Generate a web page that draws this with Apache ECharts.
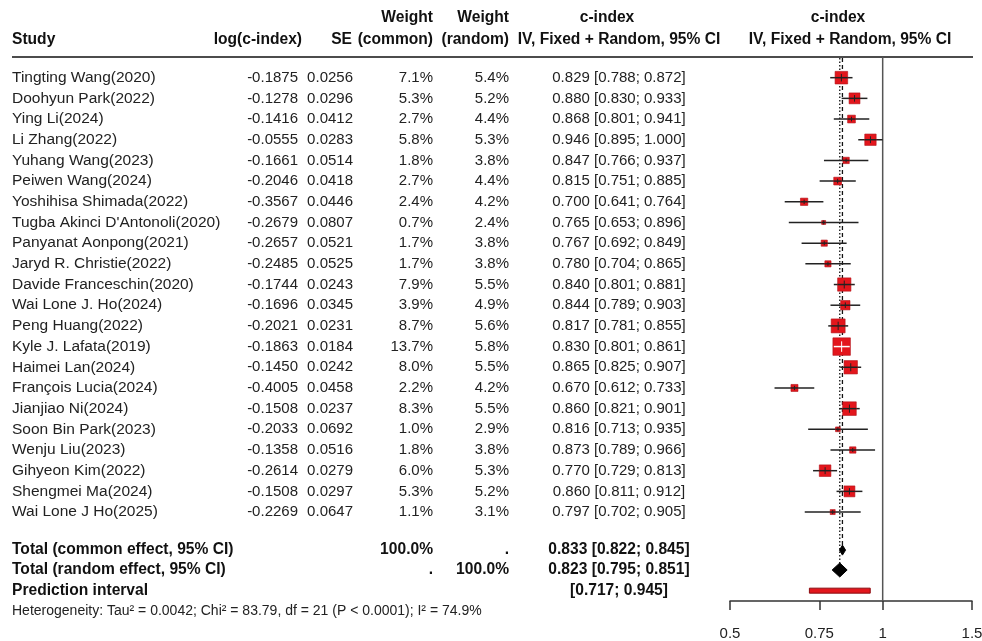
<!DOCTYPE html>
<html>
<head>
<meta charset="utf-8">
<script src="https://cdn.jsdelivr.net/npm/echarts@6/dist/echarts.min.js"></script>
<style>
html, body { margin: 0; padding: 0; background: #fff; }
#chart { width: 982px; height: 641px; }
</style>
</head>
<body>
<div id="chart"></div>
<script>
// study level data
var studies = ['Tingting Wang(2020)', 'Doohyun Park(2022)', 'Ying Li(2024)', 'Li Zhang(2022)', 'Yuhang Wang(2023)',
    'Peiwen Wang(2024)', 'Yoshihisa Shimada(2022)', "Tugba Akinci D'Antonoli(2020)", 'Panyanat Aonpong(2021)',
    'Jaryd R. Christie(2022)', 'Davide Franceschin(2020)', 'Wai Lone J. Ho(2024)', 'Peng Huang(2022)',
    'Kyle J. Lafata(2019)', 'Haimei Lan(2024)', 'François Lucia(2024)', 'Jianjiao Ni(2024)', 'Soon Bin Park(2023)',
    'Wenju Liu(2023)', 'Gihyeon Kim(2022)', 'Shengmei Ma(2024)', 'Wai Lone J Ho(2025)'];
var logC = [-0.1875, -0.1278, -0.1416, -0.0555, -0.1661, -0.2046, -0.3567, -0.2679, -0.2657, -0.2485, -0.1744,
    -0.1696, -0.2021, -0.1863, -0.1450, -0.4005, -0.1508, -0.2033, -0.1358, -0.2614, -0.1508, -0.2269];
var se = [0.0256, 0.0296, 0.0412, 0.0283, 0.0514, 0.0418, 0.0446, 0.0807, 0.0521, 0.0525, 0.0243,
    0.0345, 0.0231, 0.0184, 0.0242, 0.0458, 0.0237, 0.0692, 0.0516, 0.0279, 0.0297, 0.0647];
var wCommon = [7.1, 5.3, 2.7, 5.8, 1.8, 2.7, 2.4, 0.7, 1.7, 1.7, 7.9, 3.9, 8.7, 13.7, 8.0, 2.2, 8.3, 1.0, 1.8, 6.0, 5.3, 1.1];
var wRandom = [5.4, 5.2, 4.4, 5.3, 3.8, 4.4, 4.2, 2.4, 3.8, 3.8, 5.5, 4.9, 5.6, 5.8, 5.5, 4.2, 5.5, 2.9, 3.8, 5.3, 5.2, 3.1];
var cIndex = [0.829, 0.880, 0.868, 0.946, 0.847, 0.815, 0.700, 0.765, 0.767, 0.780, 0.840,
    0.844, 0.817, 0.830, 0.865, 0.670, 0.860, 0.816, 0.873, 0.770, 0.860, 0.797];
var ciLower = [0.788, 0.830, 0.801, 0.895, 0.766, 0.751, 0.641, 0.653, 0.692, 0.704, 0.801,
    0.789, 0.781, 0.801, 0.825, 0.612, 0.821, 0.713, 0.789, 0.729, 0.811, 0.702];
var ciUpper = [0.872, 0.933, 0.941, 1.000, 0.937, 0.885, 0.764, 0.896, 0.849, 0.865, 0.881,
    0.903, 0.855, 0.861, 0.907, 0.733, 0.901, 0.935, 0.966, 0.813, 0.912, 0.905];

// pooled results
var commonEffect = [0.833, 0.822, 0.845];
var randomEffect = [0.823, 0.795, 0.851];
var predInterval = [0.717, 0.945];
var tau2 = '0.0042', chi2 = '83.79', df = 21, pText = 'P < 0.0001', i2 = '74.9%';

var xTicks = [0.5, 0.75, 1, 1.5];

var FONT = '"Liberation Sans", Arial, Helvetica, sans-serif';
// row positions (in row units) for the summary block
var ROW_COMMON = 22.84, ROW_RANDOM = 23.8, ROW_PRED = 24.8, ROW_HET = 25.77;

function fmtCI(e, l, u) {
    return e.toFixed(3) + ' [' + l.toFixed(3) + '; ' + u.toFixed(3) + ']';
}
function txt(x, y, s, align, bold, size) {
    return {
        type: 'text', x: x, y: y, silent: true,
        style: {
            text: s, fill: bold ? '#111' : '#222',
            font: (bold ? 'bold ' : '') + (size || (bold ? 15.6 : 15)) + 'px ' + FONT,
            align: align, verticalAlign: 'middle'
        }
    };
}

var chart = echarts.init(document.getElementById('chart'));

var studyRows = studies.map(function (s, i) {
    return [0, i];
});
var forestData = studies.map(function (s, i) {
    return [Math.log(cIndex[i]), Math.log(ciLower[i]), Math.log(ciUpper[i]), i, wCommon[i]];
});
var maxW = Math.max.apply(null, wCommon);

var option = {
    animation: false,
    backgroundColor: '#fff',
    grid: { left: 730, top: 57, width: 242, height: 544, outerBoundsMode: 'none', containLabel: false },
    xAxis: {
        type: 'value',
        min: Math.log(0.5),
        max: Math.log(1.5),
        axisLine: { show: true, onZero: false, lineStyle: { color: '#333', width: 1.5 } },
        axisTick: {
            show: true, inside: false, length: 9,
            customValues: xTicks.map(Math.log),
            lineStyle: { color: '#333', width: 1.5 }
        },
        axisLabel: {
            customValues: xTicks.map(Math.log),
            margin: 25,
            fontSize: 15,
            fontFamily: FONT,
            color: '#222',
            formatter: function (v) {
                var best = xTicks[0];
                xTicks.forEach(function (t) {
                    if (Math.abs(Math.log(t) - v) < Math.abs(Math.log(best) - v)) best = t;
                });
                return String(best);
            }
        },
        splitLine: { show: false }
    },
    yAxis: { type: 'value', inverse: true, min: -1, max: 25.3, show: false },
    graphic: [
        // header
        txt(433, 18, 'Weight', 'right', true),
        txt(509, 18, 'Weight', 'right', true),
        txt(607, 18, 'c-index', 'center', true),
        txt(838, 18, 'c-index', 'center', true),
        txt(12, 40, 'Study', 'left', true),
        txt(302, 40, 'log(c-index)', 'right', true),
        txt(352, 40, 'SE', 'right', true),
        txt(433, 40, '(common)', 'right', true),
        txt(509, 40, '(random)', 'right', true),
        txt(619, 40, 'IV, Fixed + Random, 95% CI', 'center', true),
        txt(850, 40, 'IV, Fixed + Random, 95% CI', 'center', true),
        {
            type: 'line', silent: true,
            shape: { x1: 12, y1: 57, x2: 973, y2: 57 },
            style: { stroke: '#111', lineWidth: 1.5 }
        }
    ],
    series: [
        {
            // study table text
            type: 'custom',
            silent: true,
            data: studyRows,
            renderItem: function (params, api) {
                var i = api.value(1);
                var y = api.coord([0, i])[1];
                return {
                    type: 'group',
                    children: [
                        txt(12, y, studies[i], 'left', false, 15.5),
                        txt(298, y, logC[i].toFixed(4), 'right'),
                        txt(353, y, se[i].toFixed(4), 'right'),
                        txt(433, y, wCommon[i].toFixed(1) + '%', 'right'),
                        txt(509, y, wRandom[i].toFixed(1) + '%', 'right'),
                        txt(619, y, fmtCI(cIndex[i], ciLower[i], ciUpper[i]), 'center')
                    ]
                };
            }
        },
        {
            // summary text
            type: 'custom',
            silent: true,
            data: [[0, ROW_COMMON], [0, ROW_RANDOM], [0, ROW_PRED], [0, ROW_HET]],
            renderItem: function (params, api) {
                var y = api.coord([0, api.value(1)])[1];
                var k = params.dataIndex;
                if (k === 0) {
                    return { type: 'group', children: [
                        txt(12, y, 'Total (common effect, 95% CI)', 'left', true),
                        txt(433, y, '100.0%', 'right', true),
                        txt(509, y, '.', 'right', true),
                        txt(619, y, fmtCI(commonEffect[0], commonEffect[1], commonEffect[2]), 'center', true)
                    ] };
                }
                if (k === 1) {
                    return { type: 'group', children: [
                        txt(12, y, 'Total (random effect, 95% CI)', 'left', true),
                        txt(433, y, '.', 'right', true),
                        txt(509, y, '100.0%', 'right', true),
                        txt(619, y, fmtCI(randomEffect[0], randomEffect[1], randomEffect[2]), 'center', true)
                    ] };
                }
                if (k === 2) {
                    return { type: 'group', children: [
                        txt(12, y, 'Prediction interval', 'left', true),
                        txt(619, y, '[' + predInterval[0].toFixed(3) + '; ' + predInterval[1].toFixed(3) + ']', 'center', true)
                    ] };
                }
                return txt(12, y, 'Heterogeneity: Tau² = ' + tau2 + '; Chi² = ' + chi2 + ', df = ' + df +
                    ' (' + pText + '); I² = ' + i2, 'left', false, 14);
            }
        },
        {
            // reference lines
            type: 'custom',
            silent: true,
            data: [[0, 0]],
            renderItem: function (params, api) {
                var top = api.coord([0, -1])[1];
                var bottom = api.coord([0, 25.3])[1];
                var xNull = api.coord([0, 0])[0];
                var xc = api.coord([Math.log(commonEffect[0]), 0])[0];
                var xr = api.coord([Math.log(randomEffect[0]), 0])[0];
                var yc = api.coord([0, ROW_COMMON])[1];
                var yr = api.coord([0, ROW_RANDOM])[1];
                return {
                    type: 'group',
                    children: [
                        { type: 'line', shape: { x1: xNull, y1: top, x2: xNull, y2: bottom },
                          style: { stroke: '#555', lineWidth: 1.5 } },
                        { type: 'line', shape: { x1: xc, y1: top + 1, x2: xc, y2: yc - 4 },
                          style: { stroke: '#111', lineWidth: 1.3, lineDash: [4, 3] } },
                        { type: 'line', shape: { x1: xr, y1: top + 1, x2: xr, y2: yr - 6 },
                          style: { stroke: '#111', lineWidth: 1.3, lineDash: [1.5, 2] } }
                    ]
                };
            }
        },
        {
            // study squares and confidence intervals
            type: 'custom',
            silent: true,
            data: forestData,
            renderItem: function (params, api) {
                var i = api.value(3);
                var p = api.coord([api.value(0), i]);
                var pl = api.coord([api.value(1), i]);
                var pu = api.coord([api.value(2), i]);
                var size = 17.5 * Math.sqrt(api.value(4) / maxW);
                var inside = size >= (pu[0] - pl[0]);
                var lineCol = inside ? '#fff' : '#222';
                var tick = Math.max(4, size * 0.6);
                var children = [
                    { type: 'line', shape: { x1: pl[0], y1: p[1], x2: pu[0], y2: p[1] },
                      style: { stroke: '#222', lineWidth: 1.5 } },
                    { type: 'rect', shape: { x: p[0] - size / 2, y: p[1] - size / 2, width: size, height: size },
                      style: { fill: '#e3161c', stroke: '#b01018', lineWidth: 0.6 } },
                    { type: 'line', shape: { x1: Math.max(pl[0], p[0] - size / 2), y1: p[1],
                        x2: Math.min(pu[0], p[0] + size / 2), y2: p[1] },
                      style: { stroke: lineCol, lineWidth: 1.5 } },
                    { type: 'line', shape: { x1: p[0], y1: p[1] - tick / 2, x2: p[0], y2: p[1] + tick / 2 },
                      style: { stroke: lineCol, lineWidth: 1 } }
                ];
                return { type: 'group', children: children };
            }
        },
        {
            // pooled diamonds and prediction interval
            type: 'custom',
            silent: true,
            data: [
                [Math.log(commonEffect[0]), Math.log(commonEffect[1]), Math.log(commonEffect[2]), ROW_COMMON, 5],
                [Math.log(randomEffect[0]), Math.log(randomEffect[1]), Math.log(randomEffect[2]), ROW_RANDOM, 7],
                [0, Math.log(predInterval[0]), Math.log(predInterval[1]), ROW_PRED, 0]
            ],
            renderItem: function (params, api) {
                var row = api.value(3);
                var y = api.coord([0, row])[1];
                var xl = api.coord([api.value(1), row])[0];
                var xu = api.coord([api.value(2), row])[0];
                if (params.dataIndex === 2) {
                    return { type: 'rect', shape: { x: xl, y: y - 2.5, width: xu - xl, height: 5 },
                        style: { fill: '#e3161c', stroke: '#8a0c10', lineWidth: 1 } };
                }
                var xe = api.coord([api.value(0), row])[0];
                var h = api.value(4);
                return {
                    type: 'polygon',
                    shape: { points: [[xl, y], [xe, y - h], [xu, y], [xe, y + h]] },
                    style: { fill: '#000', stroke: '#000', lineWidth: 1 }
                };
            }
        }
    ]
};

chart.setOption(option);
window.addEventListener('resize', function () {
    chart.resize();
});
</script>
</body>
</html>
